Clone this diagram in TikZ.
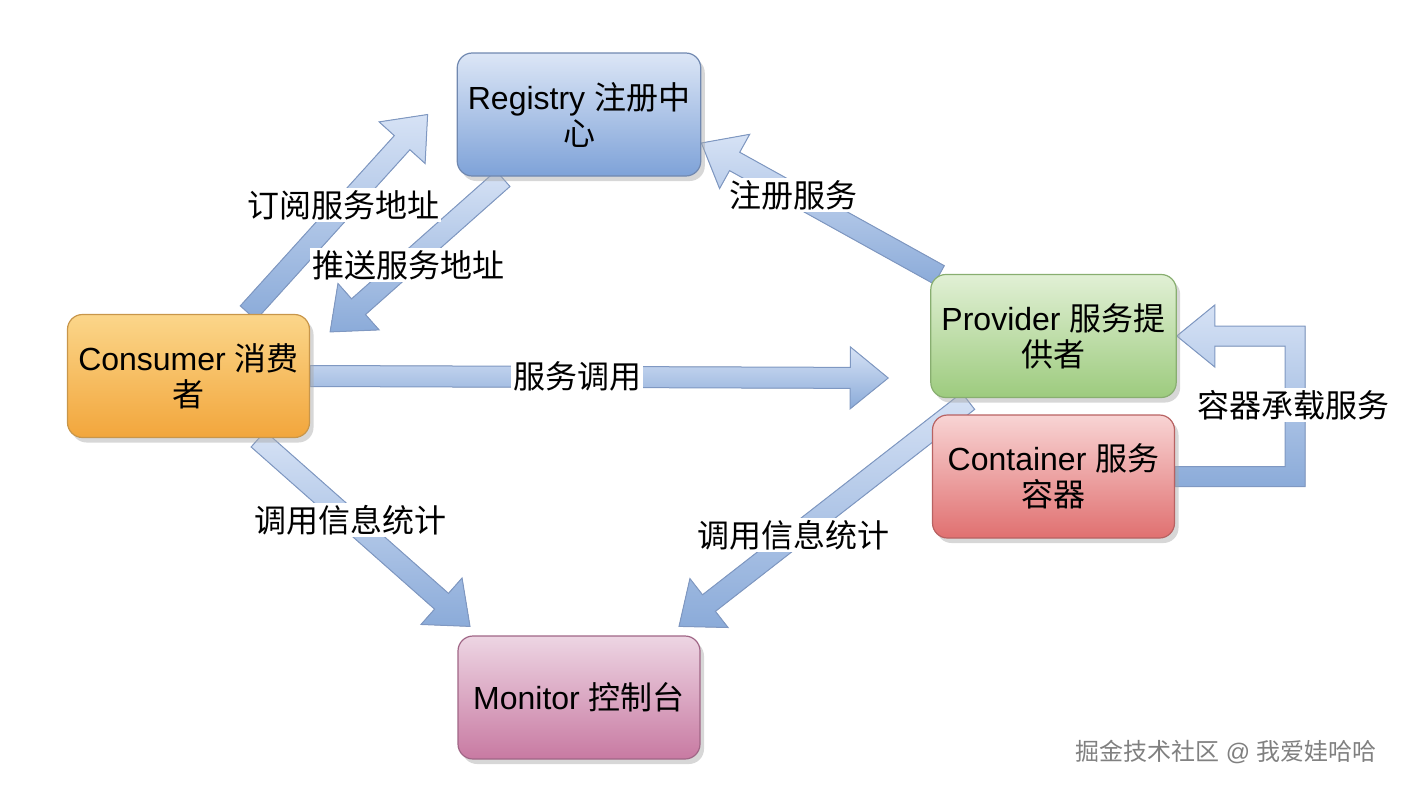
\documentclass[tikz,border=0pt]{standalone}
\usepackage{fontspec}
\setmainfont{Liberation Sans}
\newfontfamily\cjk{Noto Sans CJK SC}
\usetikzlibrary{calc,shadows,backgrounds}

\definecolor{regtop}{HTML}{DCE6F6}
\definecolor{regbot}{HTML}{7EA2D8}
\definecolor{regline}{HTML}{7088B0}
\definecolor{constop}{HTML}{FBD68A}
\definecolor{consbot}{HTML}{F2A63C}
\definecolor{consline}{HTML}{C8964A}
\definecolor{provtop}{HTML}{E1F0D5}
\definecolor{provbot}{HTML}{9DCB7E}
\definecolor{provline}{HTML}{88AE70}
\definecolor{conttop}{HTML}{F8D4D4}
\definecolor{contbot}{HTML}{E07070}
\definecolor{contline}{HTML}{B86262}
\definecolor{montop}{HTML}{EDD5E3}
\definecolor{monbot}{HTML}{C87AA2}
\definecolor{monline}{HTML}{A06686}
\definecolor{arrtop}{HTML}{D6E2F5}
\definecolor{arrbot}{HTML}{8BABD9}
\definecolor{arrline}{HTML}{7F98C2}

\newcommand{\zh}[1]{{\cjk #1}}
\newcommand{\boxfont}{\fontsize{16pt}{18pt}\selectfont}

% block arrow from #1 to #2
\newcommand{\blkarrow}[2]{%
  \coordinate (ba-s) at #1;
  \coordinate (ba-t) at #2;
  \coordinate (ba-b) at ($(ba-t)!19pt!(ba-s)$);
  \filldraw[arrowbody]
    ($(ba-s)!5.25pt!90:(ba-t)$) -- ($(ba-b)!5.25pt!90:(ba-t)$)
    -- ($(ba-b)!15.5pt!90:(ba-t)$) -- (ba-t)
    -- ($(ba-b)!15.5pt!-90:(ba-t)$) -- ($(ba-b)!5.25pt!-90:(ba-t)$)
    -- ($(ba-s)!5.25pt!-90:(ba-t)$) -- cycle;
}

\tikzset{
  rolebox/.style={
    rectangle,
    rounded corners=7.5pt,
    draw=#1line,
    line width=0.6pt,
    top color=#1top,
    bottom color=#1bot,
    minimum width=121pt,
    minimum height=61.5pt,
    align=center,
    drop shadow={shadow xshift=2pt, shadow yshift=-2.5pt, fill=black!35, opacity=0.45},
    node font=\boxfont},
  tag/.style={
    fill=white,
    inner sep=1pt,
    node font=\boxfont},
  arrowbody/.style={
    draw=arrline,
    line width=0.5pt,
    top color=arrtop,
    bottom color=arrbot}
}

\begin{document}
\begin{tikzpicture}[x=0.5pt,y=-0.5pt]
    \useasboundingbox (0,0) rectangle (1404,788);

    \node[rolebox=reg] (reg) at (579,114.5) {Registry \zh{注册中}\\\zh{心}};
    \node[rolebox=cons] (cons) at (188.5,376) {Consumer \zh{消费}\\\zh{者}};
    \node[rolebox=prov] (prov) at (1053.5,336) {Provider \zh{服务提}\\\zh{供者}};
    \node[rolebox=cont] (cont) at (1053.5,476.5) {Container \zh{服务}\\\zh{容器}};
    \node[rolebox=mon] (mon) at (579,697.5) {Monitor \zh{控制台}};

    \begin{scope}[on background layer]
        \blkarrow{($(cons.north east)+(-62,-1)$)}{($(reg.west)+(-29,0)$)}
        \blkarrow{($(reg.south)+(-76,2)$)}{($(cons.north east)+(20,18)$)}
        \blkarrow{($(prov.north west)+(9,1)$)}{($(reg.east)+(0,28.5)$)}
        \blkarrow{(cons.east)}{($(prov.west)+(-42,42)$)}
        \blkarrow{($(cons.south east)+(-52,1)$)}{($(mon.north)+(-109,-9)$)}
        \blkarrow{($(prov.south west)+(38,3)$)}{($(mon.north)+(100,-9)$)}
        % container to provider
        \filldraw[arrowbody]
            ($(cont.east)+(0,-10)$) -- ++(110,0) |- ($(prov.east)+(38,10)$)
            -- ++(0,21) -- (prov.east) -- ++(38,-31) -- ++(0,21)
            -| ($(cont.east)+(130,10)$) -- ($(cont.east)+(0,10)$) -- cycle;
    \end{scope}

    \node[tag] (subl) at (343,205) {\zh{订阅服务地址}};
    \node[tag] (pushl) at (408,265) {\zh{推送服务地址}};
    \node[tag] (regl) at (793,195) {\zh{注册服务}};
    \node[tag] (calll) at (577,376) {\zh{服务调用}};
    \node[tag] (cstat) at (350,520) {\zh{调用信息统计}};
    \node[tag] (pstat) at (793,535) {\zh{调用信息统计}};
    \node[tag] (hostl) at (1293,405) {\zh{容器承载服务}};

    \node[text=black!50, node font={\fontsize{12pt}{14pt}\selectfont}]
        (mark) at (1226,752) {\zh{掘金技术社区} @ \zh{我爱娃哈哈}};
\end{tikzpicture}
\end{document}
